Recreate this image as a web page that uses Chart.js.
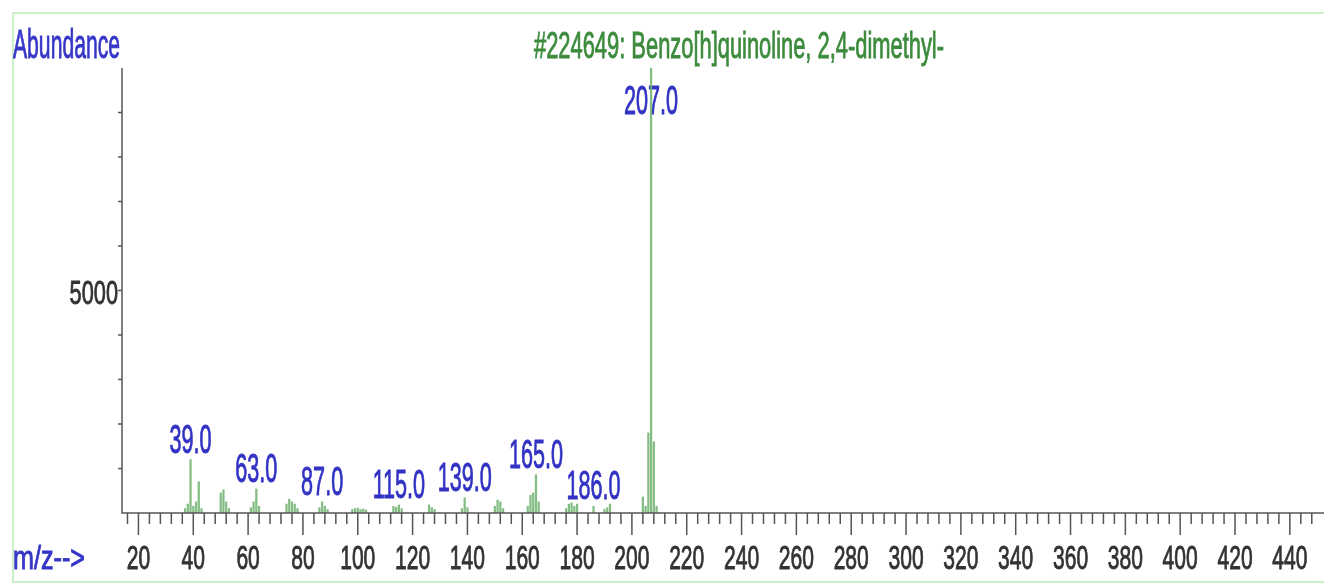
<!DOCTYPE html>
<html>
<head>
<meta charset="utf-8">
<script src="https://cdn.jsdelivr.net/npm/chart.js@4.4.1/dist/chart.umd.min.js"></script>
<style>
  html, body { margin: 0; padding: 0; background: #fff; }
  #spec { display: block; }
</style>
</head>
<body>
<canvas id="spec" width="1324" height="587"></canvas>
<script>
// spectre de masse (m/z, abondance)
const mz = [37, 38, 39, 40, 41, 42, 43, 50, 51, 52, 53, 61, 62, 63, 64,
    74, 75, 76, 77, 78, 86, 87, 88, 89, 98, 99, 100, 101, 102, 103,
    113, 114, 115, 116, 126, 127, 128, 138, 139, 140, 150, 151, 152, 153,
    162, 163, 164, 165, 166, 176, 177, 178, 179, 180, 186, 190, 191, 192,
    204, 205, 206, 207, 208, 209];
const abundance = [100, 200, 1200, 150, 250, 700, 100, 450, 520, 250, 100, 120, 250, 540, 150,
    200, 310, 250, 200, 100, 120, 250, 150, 80, 80, 100, 110, 80, 90, 70,
    150, 130, 180, 100, 180, 120, 80, 100, 340, 120, 150, 290, 250, 100,
    150, 400, 450, 860, 250, 100, 200, 230, 150, 200, 150, 80, 120, 200,
    360, 150, 1800, 9999, 1600, 150];
const peakLabels = [39, 63, 87, 115, 139, 165, 186, 207];
const xTickLabels = [20, 40, 60, 80, 100, 120, 140, 160, 180, 200, 220, 240, 260, 280, 300, 320, 340, 360, 380, 400, 420, 440];
const yTickLabels = [5000];
const titre = '#224649: Benzo[h]quinoline, 2,4-dimethyl-';

const FONT = '"Liberation Sans", Arial, sans-serif';

// texte compressé horizontalement (police étroite de l'original)
function texte(ctx, str, x, y, size, sx, color, align) {
    ctx.save();
    ctx.font = size + 'px ' + FONT;
    ctx.fillStyle = color;
    ctx.strokeStyle = color;
    ctx.lineWidth = 0.9;
    ctx.textBaseline = 'alphabetic';
    ctx.textAlign = align;
    ctx.translate(x, y);
    ctx.scale(sx, 1);
    ctx.fillText(str, 0, 0);
    ctx.strokeText(str, 0, 0);
    ctx.restore();
}

function texteLargeur(ctx, str, x, y, size, width, color, align) {
    ctx.save();
    ctx.font = size + 'px ' + FONT;
    const w = ctx.measureText(str).width;
    ctx.restore();
    texte(ctx, str, x, y, size, width / w, color, align);
}

const decor = {
    id: 'decor',
    beforeDraw(chart) {
        const ctx = chart.ctx;
        ctx.save();
        ctx.fillStyle = '#fff';
        ctx.fillRect(0, 0, chart.width, chart.height);
        ctx.strokeStyle = '#c9efc9';
        ctx.lineWidth = 2;
        ctx.strokeRect(13, 13, chart.width, chart.height - 18);
        ctx.restore();
    },
    beforeDatasetsDraw(chart) {
        const ctx = chart.ctx;
        const x = chart.scales.x, y = chart.scales.y;
        // étiquettes des pics
        for (const p of peakLabels) {
            const i = mz.indexOf(p);
            const px = x.getPixelForValue(p);
            let base = Math.min(y.getPixelForValue(abundance[i]) - 7, 508);
            base = Math.max(base, 114);
            texte(ctx, p.toFixed(1), px, base, 40, 0.54, '#3232c4', 'center');
        }
    },
    afterDatasetsDraw(chart) {
        const ctx = chart.ctx;
        const x = chart.scales.x, y = chart.scales.y;
        const a = chart.chartArea;
        ctx.save();
        ctx.strokeStyle = '#555';
        ctx.lineWidth = 1.5;
        ctx.beginPath();
        ctx.moveTo(a.left, a.top);
        ctx.lineTo(a.left, a.bottom);
        ctx.lineTo(chart.width, a.bottom);
        // graduations x : tous les 4, longues tous les 20
        for (let v = 16; v <= x.max; v += 4) {
            const px = x.getPixelForValue(v);
            ctx.moveTo(px, a.bottom);
            ctx.lineTo(px, a.bottom + (v % 20 === 0 ? 22 : 11));
        }
        // graduations y tous les 1000
        for (let v = 1000; v < y.max; v += 1000) {
            const py = y.getPixelForValue(v);
            ctx.moveTo(a.left, py);
            ctx.lineTo(a.left - 4, py);
        }
        ctx.stroke();
        ctx.restore();

        for (const t of xTickLabels) {
            texte(ctx, String(t), x.getPixelForValue(t), 569, 34, 0.62, '#333', 'center');
        }
        for (const t of yTickLabels) {
            texte(ctx, String(t), a.left - 4, y.getPixelForValue(t) + 13, 34, 0.64, '#333', 'right');
        }
        texteLargeur(ctx, 'Abundance', 13, 58, 40, 107, '#3535c8', 'left');
        texteLargeur(ctx, 'm/z-->', 13, 569, 34, 72, '#3535c8', 'left');
        texteLargeur(ctx, titre, 739, 58, 37, 410, '#3d8b3d', 'center');
    }
};

const ctx = document.getElementById('spec');
new Chart(ctx, {
    type: 'bar',
    data: {
        datasets: [{
            data: mz.map((m, i) => ({ x: m, y: abundance[i] })),
            backgroundColor: 'rgba(110,178,110,0.85)',
            borderWidth: 0,
            barThickness: 1.6,
        }]
    },
    options: {
        responsive: false,
        animation: false,
        devicePixelRatio: 1,
        layout: { padding: { left: 122, right: 4, top: 68, bottom: 74 } },
        scales: {
            x: { type: 'linear', min: 14, max: 451, offset: false, display: false },
            y: { min: 0, max: 10000, display: false },
        },
        plugins: {
            legend: { display: false },
            tooltip: { enabled: false },
        }
    },
    plugins: [decor]
});
</script>
</body>
</html>
